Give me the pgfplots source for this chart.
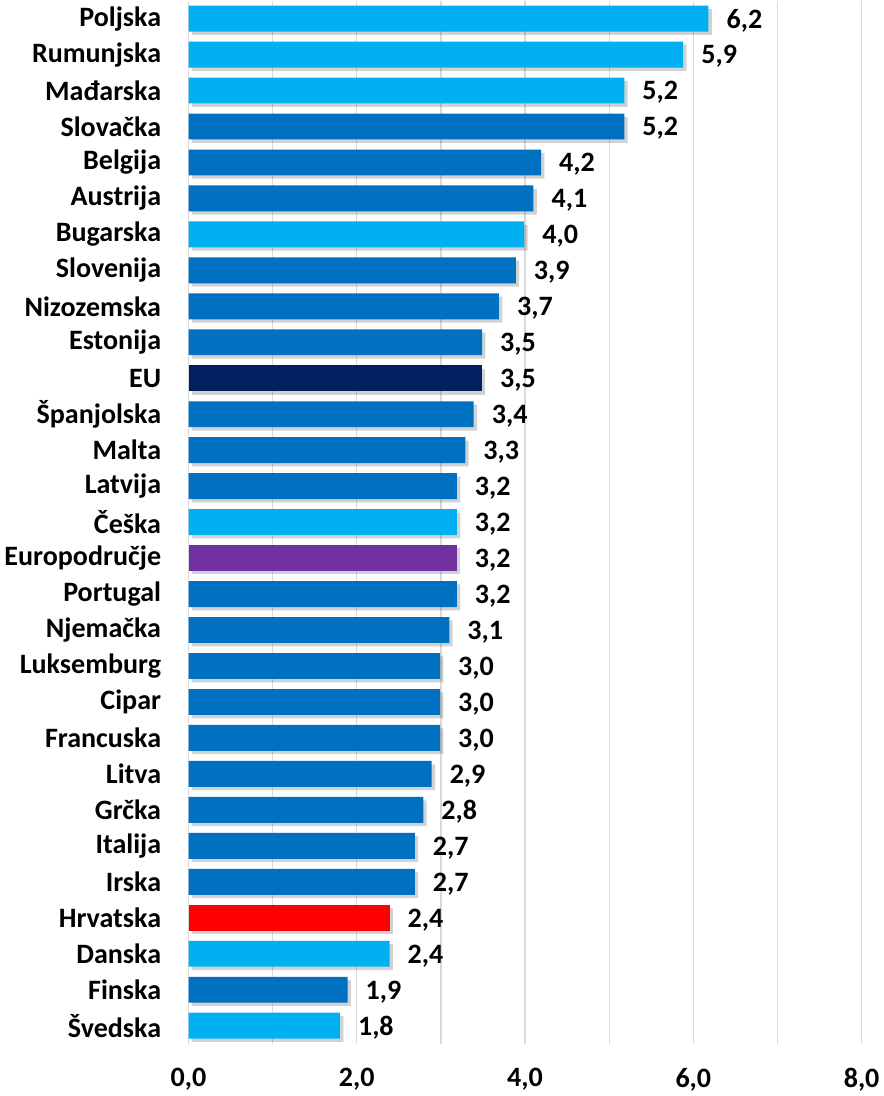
\documentclass[border=0pt]{standalone}
\usepackage{pgfplots}
\pgfplotsset{compat=1.18}
\usepackage{fontspec}
\setmainfont{Carlito}
\definecolor{lightb}{HTML}{00B0F0}
\definecolor{midb}{HTML}{0070C0}
\definecolor{navy}{HTML}{002060}
\definecolor{purp}{HTML}{7030A0}
\definecolor{redc}{HTML}{FF0000}
\definecolor{gridc}{HTML}{D9D9D9}
\begin{document}
\begin{tikzpicture}
\begin{axis}[
  scale only axis,
  width=504pt, height=781pt,
  xmin=0, xmax=8,
  ymin=-0.5, ymax=28.5,
  y dir=reverse,
  axis line style={draw=none},
  xtick={0,2,4,6,8},
  minor xtick={1,3,5,7},
  xmajorgrids, xminorgrids,
  major grid style={gridc, line width=0.9pt},
  minor grid style={gridc, line width=0.9pt},
  major tick length=0pt, minor tick length=0pt,
  ytick={0,...,28},
  yticklabels={Poljska,Rumunjska,Mađarska,Slovačka,Belgija,Austrija,Bugarska,Slovenija,Nizozemska,Estonija,EU,Španjolska,Malta,Latvija,Češka,Europodručje,Portugal,Njemačka,Luksemburg,Cipar,Francuska,Litva,Grčka,Italija,Irska,Hrvatska,Danska,Finska,Švedska},
  yticklabel style={font=\bfseries\fontsize{21}{25}\selectfont, xshift=-17pt},
  xticklabel style={font=\bfseries\fontsize{21}{25}\selectfont, yshift=-15pt},
  /pgf/number format/assume math mode=true,
  xticklabel={\pgfmathprintnumber[use comma,fixed,fixed zerofill,precision=1]{\tick}},
  xbar, bar width=0.72, bar shift=0pt,
  nodes near coords,
  nodes near coords style={font=\bfseries\fontsize{21}{25}\selectfont, anchor=west, xshift=10pt, yshift=-1.5pt,
    /pgf/number format/.cd, use comma, fixed, fixed zerofill, precision=1, assume math mode=true},
  clip=false,
]
\pgfplotsset{barsty/.style={draw=none, fill=#1, preaction={fill=black!70, fill opacity=0.25, transform canvas={xshift=2.5pt, yshift=-2.5pt}}}}
\addplot[barsty=lightb] coordinates {(6.18,0) (5.88,1) (5.18,2) (3.99,6) (3.19,14) (2.39,26) (1.80,28)};
\addplot[barsty=midb] coordinates {(5.18,3) (4.19,4) (4.10,5) (3.89,7) (3.69,8) (3.49,9) (3.39,11) (3.29,12) (3.19,13) (3.19,16) (3.10,17) (2.99,18) (2.99,19) (2.99,20) (2.89,21) (2.79,22) (2.69,23) (2.69,24) (1.89,27)};
\addplot[barsty=navy] coordinates {(3.49,10)};
\addplot[barsty=purp] coordinates {(3.19,15)};
\addplot[barsty=redc] coordinates {(2.39,25)};
\end{axis}
\end{tikzpicture}
\end{document}
